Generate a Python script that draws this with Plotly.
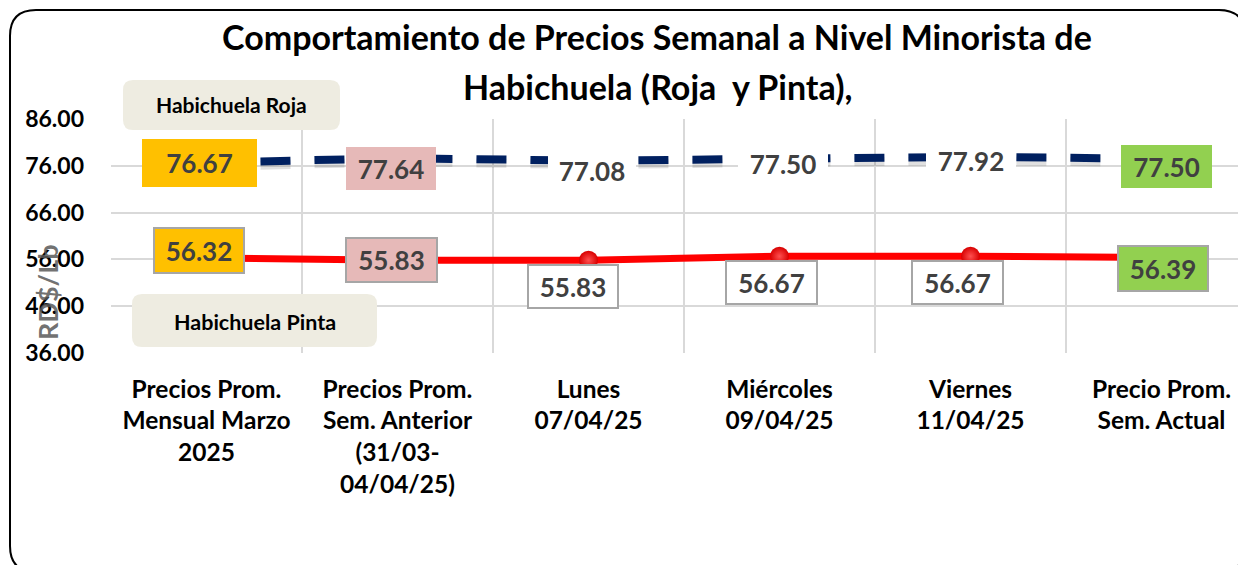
import plotly.graph_objects as go

categories = [
    "Precios Prom.<br>Mensual Marzo<br>2025",
    "Precios Prom.<br>Sem. Anterior<br>(31/03-<br>04/04/25)",
    "Lunes<br>07/04/25",
    "Miércoles<br>09/04/25",
    "Viernes<br>11/04/25",
    "Precio Prom.<br>Sem. Actual",
]
roja = [76.67, 77.64, 77.08, 77.50, 77.92, 77.50]
pinta = [56.32, 55.83, 55.83, 56.67, 56.67, 56.39]
y_ticks = [36, 46, 56, 66, 76, 86]

# page body has an 8px default margin: work in reference pixels and compensate
OFF = 8
W, H = 1246 - OFF, 565 - OFF
ML, MR, MT, MB = 111 - OFF, 0, 119 - OFF, 212
PW, PH = W - ML - MR, H - MT - MB

def px(x):
    return (x - OFF - ML) / PW

def py(y):
    return (H - MB - (y - OFF)) / PH

FONT = "Lato, 'Open Sans', sans-serif"
xs = list(range(len(categories)))

fig = go.Figure()
# soft shadow for dashed line
fig.add_trace(go.Scatter(
    x=xs, y=[v - 0.8 for v in roja], mode="lines",
    line=dict(color="rgba(0,0,0,0.12)", width=9, dash="30px,24px"),
    hoverinfo="skip", showlegend=False))
fig.add_trace(go.Scatter(
    x=xs, y=roja, mode="lines", name="Habichuela Roja",
    line=dict(color="#002060", width=8, dash="30px,24px"),
    showlegend=False))
fig.add_trace(go.Scatter(
    x=xs, y=pinta, mode="lines+markers", name="Habichuela Pinta",
    line=dict(color="#FF0000", width=7),
    marker=dict(size=19, color="#D80000",
                gradient=dict(type="radial", color="#FF5050"),
                line=dict(width=0)),
    showlegend=False))

# data label styling per point: (fill, border, xshift, yshift, width, height)
roja_style = [
    ("#FFC000", None, -7, 0, 113, 46),
    ("#E6B9B8", None, -7, -10, 88, 41),
    ("#FFFFFF", None, 3, -10, 86, 40),
    ("#FFFFFF", None, 3, -5, 88, 30),
    ("#FFFFFF", None, 0, -4, 88, 30),
    ("#92D050", None, 5, -8, 89, 41),
]
pinta_style = [
    ("#FFC000", "#A6A6A6", -8, 7, 86, 41),
    ("#E6B9B8", "#A6A6A6", -6, 0, 87, 40),
    ("#FFFFFF", "#A6A6A6", -16, -26, 86, 39),
    ("#FFFFFF", "#A6A6A6", -8, -26, 87, 39),
    ("#FFFFFF", "#A6A6A6", -13, -26, 87, 39),
    ("#92D050", "#A6A6A6", 1, -11, 86, 41),
]

annotations = []
for series, styles in ((roja, roja_style), (pinta, pinta_style)):
    for i, (v, st) in enumerate(zip(series, styles)):
        fill, border, dx, dy, w, h = st
        annotations.append(dict(
            x=i, y=v, xref="x", yref="y", text=f"{v:.2f}", showarrow=False,
            xanchor="center", yanchor="middle",
            xshift=dx, yshift=dy, width=w, height=h,
            bgcolor=fill, bordercolor=border if border else "rgba(0,0,0,0)",
            borderwidth=2 if border else 0, borderpad=1,
            font=dict(family=FONT, size=26, color="#404040", weight="bold"),
        ))

def paper_text(x, y, text, size, color="#000000", angle=0):
    return dict(x=px(x), y=py(y), xref="paper", yref="paper", text=text,
                showarrow=False, xanchor="center", yanchor="middle",
                textangle=angle,
                font=dict(family=FONT, size=size, color=color, weight="bold"))

annotations += [
    paper_text(231, 104, "Habichuela Roja", 21),
    paper_text(255, 322, "Habichuela Pinta", 21.5),
    paper_text(657, 37, "Comportamiento de Precios Semanal a Nivel Minorista de", 34),
    paper_text(657, 86, "Habichuela (Roja  y Pinta),", 34),
    paper_text(47, 292, "RD$/Lb", 27, color="rgba(89,89,89,0.85)", angle=-90),
]

def rrect(x0, y0, x1, y1, r):
    rx, ry = r / PW, r / PH
    a0, b0, a1, b1 = px(x0), py(y0), px(x1), py(y1)  # b0 top, b1 bottom
    return (f"M {a0+rx},{b0} L {a1-rx},{b0} Q {a1},{b0} {a1},{b0-ry} "
            f"L {a1},{b1+ry} Q {a1},{b1} {a1-rx},{b1} L {a0+rx},{b1} "
            f"Q {a0},{b1} {a0},{b1+ry} L {a0},{b0-ry} Q {a0},{b0} {a0+rx},{b0} Z")

shapes = [
    dict(type="path", xref="paper", yref="paper", path=rrect(10, 10, 1245, 572, 26),
         line=dict(color="#000000", width=2), fillcolor="rgba(0,0,0,0)", layer="below"),
    dict(type="path", xref="paper", yref="paper", path=rrect(123, 80, 340, 130, 10),
         line=dict(width=0), fillcolor="#EEECE1", layer="above"),
    dict(type="path", xref="paper", yref="paper", path=rrect(132, 294, 377, 347, 10),
         line=dict(width=0), fillcolor="#EEECE1", layer="above"),
]

fig.update_layout(
    width=W, height=H,
    margin=dict(l=ML, r=MR, t=MT, b=MB),
    plot_bgcolor="white", paper_bgcolor="white",
    annotations=annotations, shapes=shapes,
    showlegend=False,
)
fig.update_xaxes(
    range=[-0.5, len(categories) - 0.5 - 11 / 191],
    tickvals=xs, ticktext=categories,
    showgrid=False, zeroline=False, showline=False,
    ticks="", ticklabelstandoff=19,
    tickfont=dict(family=FONT, size=24.5, color="#000000", weight="bold"),
    minor=dict(tick0=-0.5, dtick=1, showgrid=True, gridcolor="#D9D9D9", gridwidth=2),
)
fig.update_yaxes(
    range=[36, 86], tickvals=y_ticks, tickformat=".2f",
    showgrid=True, gridcolor="#D9D9D9", gridwidth=2, zeroline=False,
    ticks="", ticklabelstandoff=26,
    tickfont=dict(family=FONT, size=23, color="#000000", weight="bold"),
)

fig.write_html("out.html")
